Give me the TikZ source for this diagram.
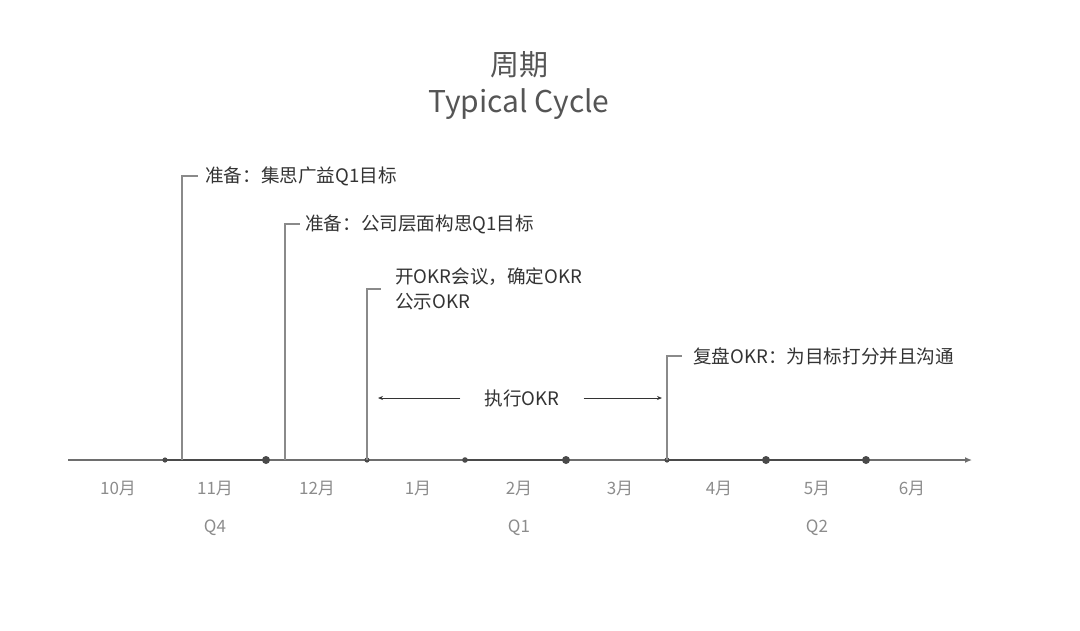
\documentclass[tikz,border=0pt]{standalone}
\usepackage{fontspec}
\setmainfont{Noto Sans CJK SC}
\usetikzlibrary{arrows.meta}

\definecolor{axisgray}{HTML}{4A4A4A}
\definecolor{linegray}{HTML}{8A8A8A}
\definecolor{textdark}{HTML}{333333}
\definecolor{textlight}{HTML}{8C8C8C}
\definecolor{titlegray}{HTML}{555555}

\begin{document}
\begin{tikzpicture}[x=1pt, y=-1pt, >={Stealth[length=5pt, width=4pt]},
    month/.style={text=textlight, font=\fontsize{17}{20}\selectfont},
    event/.style={text=textdark, anchor=west, inner sep=0pt, align=left,
        font=\fontsize{18.6}{25}\selectfont},
    stem/.style={linegray, line width=1.1pt}]
    \useasboundingbox (0,0) rectangle (1080,630);

    % Title
    \node[text=titlegray, font=\fontsize{29}{34}\selectfont] (title) at (519,65) {周期};
    \node[text=titlegray, font=\fontsize{30}{34}\selectfont] (subtitle) at (519,104) {Typical Cycle};

    % Time axis
    \coordinate (start) at (68,460);
    \coordinate (end) at (972,460);
    \draw[axisgray!80, line width=1.3pt, -{Latex[length=7pt, width=6pt]}] (start) -- (end);
    \draw[axisgray, line width=2.2pt] (165,460) -- (266,460);
    \draw[axisgray, line width=2.2pt] (465,460) -- (566,460);
    \draw[axisgray, line width=2.2pt] (667,460) -- (866,460);

    % Dots on the axis
    \foreach \x/\r in {165/2.6, 266/4, 367/2.6, 465/2.8, 566/4, 667/2.6, 766/4, 866/4}
        \fill[axisgray] (\x,460) circle (\r);

    % Months and quarters
    \foreach \m/\x in {10/118, 11/215, 12/317, 1/418, 2/519, 3/620, 4/719, 5/817, 6/912}
        \node[month] (m\m) at (\x,488) {\m{}月};
    \node[month] (q4) at (215,528) {Q4};
    \node[month] (q1) at (519,528) {Q1};
    \node[month] (q2) at (817,528) {Q2};

    % Events
    \coordinate (p1) at (182,460);
    \coordinate (p2) at (285,460);
    \coordinate (p3) at (367,460);
    \coordinate (p4) at (667,460);

    \node[event] (prep1) at (205,176) {准备：集思广益Q1目标};
    \node[event] (prep2) at (305,224) {准备：公司层面构思Q1目标};
    \node[event] (meet) at (395,289) {开OKR会议，确定OKR\\公示OKR};
    \node[event] (review) at (693,356) {复盘OKR：为目标打分并且沟通};

    \draw[stem] (p1) |- ([xshift=-7pt]prep1.west);
    \draw[stem] (p2) |- ([xshift=-5pt]prep2.west);
    \draw[stem] (p3) |- ([xshift=-14pt]meet.west);
    \draw[stem] (p4) |- ([xshift=-11pt]review.west);

    % Execution span
    \node[text=textdark, font=\fontsize{18.6}{22}\selectfont, inner xsep=24pt] (exec) at (522,398) {执行OKR};
    \coordinate (execl) at (378,398);
    \coordinate (execr) at (662,398);
    \draw[->, textdark, line width=0.9pt] (exec.west) -- (execl);
    \draw[->, textdark, line width=0.9pt] (exec.east) -- (execr);
\end{tikzpicture}
\end{document}
